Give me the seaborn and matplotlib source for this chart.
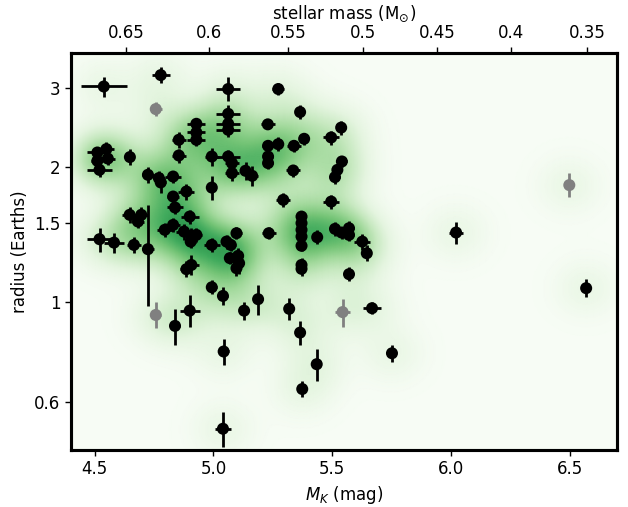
import numpy as np
import matplotlib
matplotlib.use("Agg")
import matplotlib.pyplot as plt
import seaborn as sns
import pandas as pd

# ---- data: absolute K magnitude, radius (Earth radii), uncertainties, flag ----
mk = [4.538, 4.778, 4.757, 5.062, 5.062, 5.062, 5.062, 4.928, 4.928, 4.928,
      4.854, 4.854, 4.993, 5.062, 5.078, 5.078, 5.135, 5.163, 5.229, 5.230,
      5.230, 5.230, 4.511, 4.549, 4.555, 4.511, 4.520, 4.648, 4.724, 4.770,
      4.778, 4.830, 4.886, 4.830, 4.838, 4.993, 4.900, 4.647, 4.696, 4.682,
      4.724, 4.520, 4.581, 4.665, 4.795, 4.830, 4.876, 4.907, 4.928, 4.904,
      4.993, 5.055, 5.073, 5.097, 5.104, 5.069, 5.108, 5.097, 4.907, 4.886,
      5.233, 4.993, 5.040, 5.188, 5.129, 4.900, 4.757, 4.838, 5.043, 5.435,
      5.374, 5.040, 5.273, 5.365, 5.538, 5.496, 5.382, 5.273, 5.339, 5.336,
      5.541, 5.522, 5.512, 5.294, 5.496, 5.371, 5.371, 5.371, 5.371, 5.371,
      5.371, 5.371, 5.437, 5.512, 5.540, 5.571, 5.571, 5.627, 5.646, 5.571,
      5.319, 5.544, 5.668, 5.365, 5.752, 6.022, 6.499, 6.570]
mk_err = [0.097, 0.038, 0.025, 0.051, 0.051, 0.051, 0.051, 0.038, 0.038, 0.038,
          0.030, 0.030, 0.030, 0.051, 0.030, 0.030, 0.025, 0.025, 0.030, 0.025,
          0.021, 0.021, 0.042, 0.030, 0.030, 0.025, 0.054, 0.017, 0.025, 0.025,
          0.021, 0.034, 0.034, 0.025, 0.034, 0.017, 0.038, 0.034, 0.030, 0.025,
          0.025, 0.054, 0.042, 0.030, 0.034, 0.030, 0.034, 0.021, 0.025, 0.021,
          0.034, 0.025, 0.021, 0.025, 0.021, 0.021, 0.021, 0.021, 0.030, 0.025,
          0.030, 0.021, 0.021, 0.021, 0.021, 0.042, 0.021, 0.021, 0.021, 0.017,
          0.017, 0.034, 0.025, 0.017, 0.021, 0.034, 0.017, 0.021, 0.030, 0.030,
          0.021, 0.021, 0.021, 0.030, 0.034, 0.017, 0.017, 0.017, 0.017, 0.017,
          0.017, 0.017, 0.017, 0.021, 0.021, 0.021, 0.021, 0.034, 0.017, 0.017,
          0.017, 0.030, 0.038, 0.017, 0.017, 0.030, 0.013, 0.013]
radius = [3.024, 3.206, 2.693, 2.985, 2.628, 2.497, 2.421, 2.497, 2.388, 2.300,
          2.300, 2.122, 2.111, 2.111, 2.041, 1.939, 1.962, 1.912, 2.490, 2.230,
          2.111, 2.041, 2.155, 2.193, 2.089, 2.065, 1.971, 2.105, 1.922, 1.890,
          1.848, 1.905, 1.764, 1.719, 1.625, 1.800, 1.551, 1.565, 1.565, 1.512,
          1.312, 1.381, 1.357, 1.341, 1.449, 1.486, 1.436, 1.405, 1.412, 1.364,
          1.341, 1.364, 1.341, 1.424, 1.268, 1.253, 1.221, 1.190, 1.210, 1.184,
          1.424, 1.079, 1.032, 1.015, 0.957, 0.957, 0.936, 0.885, 0.776, 0.727,
          0.640, 0.522, 2.985, 2.652, 2.449, 2.328, 2.312, 2.249, 2.230, 1.965,
          2.058, 1.971, 1.899, 1.690, 1.675, 1.551, 1.500, 1.449, 1.400, 1.335,
          1.210, 1.186, 1.395, 1.456, 1.429, 1.461, 1.412, 1.364, 1.285, 1.154,
          0.966, 0.950, 0.969, 0.855, 0.769, 1.429, 1.823, 1.074]
radius_err = [0.155, 0.132, 0.097, 0.184, 0.121, 0.090, 0.087, 0.077, 0.074, 0.071,
              0.094, 0.076, 0.098, 0.076, 0.073, 0.080, 0.091, 0.098, 0.064, 0.069,
              0.065, 0.063, 0.066, 0.079, 0.064, 0.064, 0.071, 0.087, 0.079, 0.068,
              0.095, 0.059, 0.072, 0.053, 0.050, 0.111, 0.056, 0.064, 0.064, 0.047,
              0.330, 0.085, 0.070, 0.055, 0.052, 0.053, 0.059, 0.058, 0.051, 0.042,
              0.048, 0.049, 0.041, 0.044, 0.052, 0.039, 0.063, 0.049, 0.062, 0.049,
              0.044, 0.039, 0.048, 0.078, 0.044, 0.079, 0.062, 0.082, 0.052, 0.060,
              0.026, 0.046, 0.092, 0.095, 0.088, 0.084, 0.071, 0.081, 0.069, 0.061,
              0.053, 0.061, 0.068, 0.061, 0.060, 0.040, 0.039, 0.037, 0.036, 0.034,
              0.043, 0.043, 0.050, 0.052, 0.044, 0.053, 0.044, 0.056, 0.053, 0.041,
              0.055, 0.068, 0.030, 0.053, 0.032, 0.081, 0.112, 0.050]
status = ["ok"] * len(mk)
for i in (2, 66, 101, 106):
    status[i] = "flag"

mass_ticks = [0.65, 0.6, 0.55, 0.5, 0.45, 0.4, 0.35]
mass_labels = ["0.65", "0.6", "0.55", "0.5", "0.45", "0.4", "0.35"]
y_ticks = [0.6, 1, 1.5, 2, 3]
y_labels = ["0.6", "1", "1.5", "2", "3"]
x_ticks = [4.5, 5.0, 5.5, 6.0, 6.5]

df = pd.DataFrame({"mk": mk, "mk_err": mk_err, "radius": radius,
                   "radius_err": radius_err, "status": status})

# ---- style ----
sns.set_theme(style="ticks")
plt.rcParams["font.family"] = ["DejaVu Sans"]
plt.rcParams.update({"axes.linewidth": 2.2, "xtick.major.width": 1.0,
                     "ytick.major.width": 1.0, "xtick.major.size": 4,
                     "ytick.major.size": 4, "axes.edgecolor": "black",
                     "xtick.color": "black", "ytick.color": "black",
                     "text.color": "black", "axes.labelcolor": "black"})

fig = plt.figure(figsize=(6.28, 5.07), dpi=100)
ax = fig.add_axes([0.1131, 0.1124, 0.8694, 0.784])

xlim = (4.4, 6.7)
ylim = (0.468, 3.6)

# ---- density background from the points ----
gx = np.linspace(xlim[0], xlim[1], 460)
gy = np.linspace(np.log10(ylim[0]), np.log10(ylim[1]), 400)
GX, GY = np.meshgrid(gx, gy)
dens = np.zeros_like(GX)
sx, sy = 0.09, 0.043
for m, r in zip(df["mk"], np.log10(df["radius"])):
    dens += np.exp(-0.5 * ((GX - m) / sx) ** 2 - 0.5 * ((GY - r) / sy) ** 2)
ax.pcolormesh(gx, 10 ** gy, dens, cmap="Greens", vmin=0,
              vmax=dens.max() / 0.7, shading="gouraud", rasterized=True,
              zorder=0)

# ---- error bars and points ----
colors = {"ok": "black", "flag": "gray"}
for st, sub in df.groupby("status"):
    ax.errorbar(sub["mk"], sub["radius"], xerr=sub["mk_err"],
                yerr=sub["radius_err"], fmt="none", ecolor=colors[st],
                elinewidth=2.0, capsize=0, zorder=2)
sns.scatterplot(data=df, x="mk", y="radius", hue="status", palette=colors,
                s=75, edgecolor="none", linewidth=0, legend=False, ax=ax,
                zorder=3)

ax.set_yscale("log")
ax.set_xlim(*xlim)
ax.set_ylim(*ylim)
ax.set_yticks(y_ticks)
ax.set_yticklabels(y_labels)
ax.yaxis.set_minor_locator(matplotlib.ticker.NullLocator())
ax.set_xticks(x_ticks)
ax.set_xticklabels([f"{v:.1f}" for v in x_ticks])
ax.tick_params(labelsize=12)
ax.set_xlabel("$M_K$ (mag)", fontsize=12)
ax.set_ylabel("radius (Earths)", fontsize=12)

# ---- top axis: stellar mass from the Mann et al. (2019) M_K relation ----
coef = [-0.642, -0.208, -8.43e-4, 7.87e-3, 1.42e-4, -2.13e-4]
grid_mk = np.linspace(3.5, 8.0, 2000)
grid_mass = 10 ** sum(c * (grid_mk - 7.5) ** i for i, c in enumerate(coef))
tick_mk = np.interp(mass_ticks, grid_mass[::-1], grid_mk[::-1])
ax2 = ax.twiny()
ax2.set_xlim(*xlim)
ax2.set_xticks(tick_mk)
ax2.set_xticklabels(mass_labels)
ax2.tick_params(labelsize=12)
ax2.set_xlabel("stellar mass (M$_{\\odot}$)", fontsize=12)
for sp in ax2.spines.values():
    sp.set_linewidth(2.2)

fig.savefig("out.png", dpi=100)
